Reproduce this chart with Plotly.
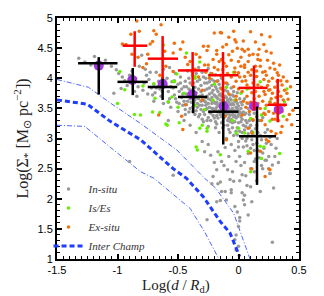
import plotly.graph_objects as go

# ---------------- data ----------------
# In-situ clumps (grey points): (log d/Rd, log Sigma*)
insitu_pts = [
    (-1.32,4.33),(-1.19,4.36),(-1.27,4.27),(-1.22,4.22),(-1.10,4.30),(-1.05,4.20),(-1.01,4.14),(-0.99,4.08),
    (-1.03,3.75),(-0.96,4.02),(-0.94,3.96),(-0.92,3.88),(-0.97,3.83),(-0.90,4.05),(-0.88,4.12),(-0.80,4.38),
    (-0.86,3.78),(-0.84,3.70),(-0.83,3.86),(-0.78,3.92),(-0.76,4.05),(-0.74,3.98),(-0.72,3.84),(-0.70,3.90),
    (-0.69,3.76),(-0.68,4.10),(-0.66,3.95),(-0.65,3.82),(-0.64,3.70),(-0.62,3.58),(-0.60,3.88),(-0.59,4.00),
    (-0.58,3.78),(-0.57,3.66),(-0.56,3.52),(-0.55,3.94),(-0.54,3.84),(-0.53,3.72),(-0.52,4.08),(-0.51,3.60),
    (-0.50,3.45),(-0.50,3.90),(-0.49,3.78),(-0.48,4.02),(-0.47,3.68),(-0.46,3.55),(-0.45,3.86),(-0.44,3.95),
    (-0.43,3.74),(-0.42,3.62),(-0.42,4.12),(-0.41,3.82),(-0.40,3.50),(-0.40,3.92),(-0.39,3.70),(-0.38,4.05),
    (-0.37,3.60),(-0.36,3.85),(-0.36,3.40),(-0.35,3.76),(-0.34,3.95),(-0.33,3.66),(-0.33,4.18),(-0.32,3.55),
    (-0.31,3.88),(-0.30,3.72),(-0.30,3.32),(-0.29,4.02),(-0.28,3.62),(-0.28,3.80),(-0.27,3.48),(-0.26,3.92),
    (-0.26,3.70),(-0.25,3.58),(-0.25,3.20),(-0.24,3.84),(-0.23,3.64),(-0.23,4.08),(-0.22,3.50),(-0.22,3.76),
    (-0.21,3.38),(-0.20,3.95),(-0.20,3.60),(-0.19,3.70),(-0.19,3.28),(-0.18,3.82),(-0.18,3.52),(-0.17,3.44),
    (-0.17,3.66),(-0.16,3.90),(-0.16,3.10),(-0.15,3.58),(-0.15,3.74),(-0.14,3.36),(-0.14,3.48),(-0.13,3.62),
    (-0.13,3.84),(-0.12,3.22),(-0.12,3.54),(-0.11,3.70),(-0.11,3.42),(-0.10,3.00),(-0.10,3.60),(-0.09,3.30),
    (-0.09,3.78),(-0.08,3.50),(-0.08,3.15),(-0.07,3.66),(-0.07,3.38),(-0.06,2.90),(-0.06,3.56),(-0.05,3.26),
    (-0.05,3.72),(-0.04,3.44),(-0.04,3.05),(-0.03,3.62),(-0.03,2.80),(-0.02,3.34),(-0.02,3.52),(-0.01,3.18),
    (0.00,2.95),(0.00,3.46),(0.01,3.66),(0.01,2.70),(0.02,3.28),(0.03,3.10),(0.03,3.56),(0.04,2.86),
    (0.05,3.40),(0.05,2.60),(0.06,3.20),(0.07,3.00),(0.08,3.50),(0.08,2.75),(0.09,3.30),(0.10,2.50),
    (0.11,3.12),(0.12,2.90),(0.13,3.42),(0.14,2.66),(0.15,3.22),(0.16,2.80),(0.18,3.05),(0.19,2.55),
    (0.20,3.35),(0.21,2.84),(0.22,2.64),(0.24,3.15),(0.26,2.42),(0.27,2.90),(0.29,2.18),(0.30,2.70),
    (0.32,3.00),(0.28,1.28),(-0.22,2.25),(-0.17,2.25),(-0.15,2.28),(-0.14,2.12),(-0.11,2.12),(-0.06,2.10),
    (-0.04,2.29),(0.01,2.30),(0.03,2.10),(0.05,2.06),(0.05,1.90),(-0.03,1.87),(-0.18,1.95),(0.01,1.69),
    (0.01,1.63),(0.00,1.54),(-0.02,1.40),(-0.03,1.32),(0.00,1.21),(-0.02,1.15),(-0.26,1.65),(-0.15,1.97),
    (0.00,2.86),(-0.21,2.37),(-0.06,2.15),(0.08,1.73),(0.23,2.64),(0.26,2.42),(-0.12,2.55),(-0.08,2.70),
    (-0.05,2.45),(0.02,2.55),(0.06,2.38),(0.10,2.20),(0.13,2.45),(-0.20,2.60),(-0.17,2.78),(-0.25,2.90),
    (-0.30,2.95),(-0.35,3.10),(-0.40,3.22),(-0.45,3.30),(-0.58,3.30),(-0.90,2.62),(-0.54,2.39),
    (-0.27,3.55),(-0.24,3.44),(-0.21,3.62),(-0.19,3.48),(-0.16,3.55),(-0.14,3.70),(-0.12,3.40),(-0.10,3.52),
    (-0.09,3.64),(-0.07,3.46),(-0.05,3.58),(-0.04,3.36),(-0.02,3.62),(0.00,3.40),(-0.29,3.45),(-0.31,3.62),
    (-0.34,3.52),(-0.38,3.45),(-0.27,3.68),(-0.23,3.30),(-0.18,3.38),(-0.13,3.28),(-0.08,3.42),(-0.06,3.32),
    (-0.01,3.50),(0.02,3.42),(0.04,3.22),(-0.33,3.82),(-0.28,3.92),(-0.22,3.88),(-0.17,3.78),(-0.39,3.60),
    (-0.44,3.48),(-0.47,3.82),(-0.41,3.72),(-0.35,3.68),(-0.31,3.78),(-0.24,3.74),(-0.20,3.72),(-0.15,3.64),
    (-0.11,3.58),(-0.07,3.56),(-0.03,3.46),(0.02,3.36),(0.06,3.30),(0.09,3.18),(0.12,3.30),(0.16,3.10),
    (0.07,2.88),(0.11,2.98),(-0.01,3.06),(-0.07,3.10),(-0.13,3.18),(-0.19,3.18),(-0.25,3.35),(-0.32,3.40),
    (-0.30,3.55),(-0.26,3.50),(-0.22,3.58),(-0.18,3.60),(-0.13,3.50),(-0.09,3.46),(-0.05,3.40),
    (-0.44,3.40),(-0.43,3.56),(-0.41,3.44),(-0.40,3.66),(-0.38,3.52),(-0.37,3.78),(-0.36,3.64),(-0.35,3.46),
    (-0.34,3.58),(-0.33,3.36),(-0.32,3.70),(-0.31,3.48),(-0.29,3.64),(-0.29,3.28),(-0.28,3.40),(-0.27,3.60),
    (-0.26,3.30),(-0.26,3.82),(-0.25,3.66),(-0.24,3.52),(-0.24,3.94),(-0.23,3.42),(-0.22,3.68),(-0.21,3.50),
    (-0.21,3.80),(-0.20,3.34),(-0.20,3.46),(-0.19,3.58),(-0.19,3.86),(-0.18,3.68),(-0.18,3.24),(-0.17,3.56),
    (-0.17,3.34),(-0.16,3.46),(-0.16,3.72),(-0.15,3.40),(-0.15,3.84),(-0.14,3.58),(-0.14,3.26),(-0.13,3.44),
    (-0.13,3.70),(-0.12,3.60),(-0.12,3.34),(-0.11,3.50),(-0.11,3.80),(-0.10,3.40),(-0.10,3.68),(-0.09,3.54),
    (-0.09,3.22),(-0.08,3.60),(-0.08,3.34),(-0.07,3.72),(-0.07,3.28),(-0.06,3.46),(-0.06,3.64),(-0.05,3.50),
    (-0.05,3.18),(-0.04,3.56),(-0.04,3.70),(-0.03,3.38),(-0.03,3.28),(-0.02,3.44),(-0.02,3.12),(-0.01,3.58),
    (-0.01,3.36),(0.00,3.54),(0.00,3.26),(0.01,3.44),(0.01,3.12),(0.02,3.50),(0.03,3.32),(0.03,3.00),
    (0.04,3.44),(0.05,3.14),(0.06,3.42),(0.06,2.96),(0.07,3.26),(0.08,3.08),(0.09,3.40),(0.10,2.84),
    (0.10,3.22),(0.12,3.06),(0.13,2.80),(0.14,3.16),(0.15,2.92),(0.17,3.30),(0.17,2.68),(0.19,2.98),
    (0.20,2.76),(0.22,3.10),(0.23,2.92),(0.25,2.70),(0.26,3.02),(0.28,2.56),(0.31,2.84),(0.33,2.60),
    (-0.70,3.62),(-0.67,3.86),(-0.63,3.78),(-0.61,3.96),(-0.58,3.60),(-0.56,3.86),(-0.53,3.96),(-0.52,3.66),
    (-0.49,3.58),(-0.48,3.92),(-0.46,3.74),(-0.45,3.62),(-0.43,3.86),(-0.41,4.00),(-0.39,3.80),(-0.37,3.92),
    (-0.35,4.08),(-0.32,3.98),(-0.30,4.10),(-0.27,4.00),(-0.25,4.16),(-0.22,3.98),(-0.19,4.06),(-0.17,3.96),
    (-0.14,4.00),(-0.12,3.92),(-0.09,3.90),(-0.06,3.84),(-0.04,3.78),(-0.01,3.76),(0.02,3.60),(0.05,3.66),
    (0.08,3.58),(0.11,3.52),(-0.85,4.00),(-0.82,4.20),(-0.79,3.80),(-0.77,4.15),(-0.75,3.74),(-0.73,4.10),
    (-0.71,3.72),(-0.68,3.84),(-0.62,4.15),(-0.57,4.18),
    (-0.11,2.85),(-0.14,2.62),(-0.09,2.48),(-0.07,2.32),(-0.02,2.62),(0.03,2.40),(0.07,2.22),(0.04,1.98),
    (-0.10,1.98),(-0.18,2.48),(-0.23,2.72),(-0.28,2.78),(0.15,2.30),(0.18,2.12),(-0.01,1.78),(0.11,1.95),
    (0.20,2.50),(0.13,2.62),
]

# Is/Es clumps (green points)
ises_pts = [
    (-0.98,4.11),(-0.70,3.91),(-0.54,3.95),(-0.94,3.81),(-0.79,3.87),(-0.62,4.55),(-0.43,4.42),(-0.36,4.00),
    (-1.00,3.58),(-0.81,3.39),(-0.59,3.22),(-0.51,4.07),(-0.69,3.67),(-0.65,3.43),(-0.50,3.52),(-0.86,3.40),
    (-0.71,3.44),(-0.60,3.24),(-0.49,3.26),(-0.32,3.17),(-0.34,2.81),(-0.58,3.61),(-0.26,3.12),(-0.15,2.73),
    (-0.02,3.09),(0.08,2.79),(0.18,2.87),(0.26,3.29),(0.37,3.37),(0.10,2.45),(0.19,2.67),(0.34,2.75),
    (-0.35,2.86),(-0.32,4.27),(-0.36,4.03),(-0.53,3.94),(-0.24,4.05),(-0.04,4.10),(0.07,3.82),(0.18,3.94),
    (0.40,3.82),(0.26,3.61),(0.38,3.61),(-0.55,3.69),(-0.33,3.69),(-0.21,3.64),(-0.03,3.64),(-0.30,3.22),
    (-0.26,3.17),(0.00,3.17),(0.05,3.09),(0.21,2.86),(0.10,3.33),(0.19,3.39),(0.22,3.50),(-0.45,3.75),
    (-0.28,3.48),(-0.15,3.45),(-0.10,3.85),(-0.20,3.90),(0.02,3.75),(-0.36,3.55),(0.12,3.10),(-0.05,3.30),
]

# Ex-situ clumps (orange points)
exsitu_pts = [
    (-0.84,4.95),(-0.64,4.89),(-0.70,4.79),(-0.82,4.78),(-0.68,4.73),(-0.71,4.61),(-0.73,4.57),(-0.89,4.73),
    (-0.96,4.57),(-0.93,4.56),(-0.53,4.58),(-0.46,4.60),(-0.48,4.48),(-0.61,4.45),(-0.54,4.42),(-0.32,4.35),
    (-0.29,4.53),(-0.44,4.35),(-0.79,4.18),(-0.76,4.24),(-0.42,4.23),(-0.54,4.11),(-0.83,4.35),
    (-0.20,4.75),(-0.14,4.75),(-0.04,4.78),(0.10,4.77),(-0.03,4.64),(-0.02,4.60),(0.21,4.56),(-0.10,4.56),
    (-0.25,4.53),(-0.26,4.46),(-0.18,4.46),(0.03,4.48),(0.05,4.45),(0.08,4.48),(0.16,4.39),(0.23,4.45),
    (-0.08,4.39),(-0.14,4.31),(-0.21,4.31),(0.00,4.28),(0.08,4.28),(0.16,4.31),(0.29,4.25),(0.34,4.22),
    (-0.10,4.20),(-0.03,4.17),(0.05,4.22),(0.11,4.14),(0.18,4.20),(0.22,4.11),(0.26,4.17),(0.32,4.09),
    (0.00,4.09),(0.05,4.03),(0.15,4.03),(0.21,3.98),(0.25,3.95),(0.32,3.95),(0.36,3.89),(-0.25,4.22),
    (-0.17,4.14),(-0.02,3.95),(0.07,3.89),(0.16,3.89),(0.26,3.81),(0.33,3.78),(0.03,3.78),(0.11,3.76),
    (0.22,3.73),(0.43,3.86),(0.45,3.47),(0.40,3.31),(0.37,3.64),(0.29,3.42),(0.26,4.69),(-0.15,4.76),
    (0.11,3.09),(0.18,2.79),(0.27,3.12),(0.25,2.95),(0.22,3.23),(0.12,3.31),(0.08,3.17),(0.21,3.42),
    (0.32,3.50),(0.44,3.23),(0.03,3.39),(0.07,3.59),(-0.02,3.64),(-0.11,3.37),(0.11,2.50),(0.26,2.48),
    (0.10,2.76),(0.23,2.98),(-0.10,2.98),(0.25,2.50),(0.22,2.37),(-0.66,3.39),(-0.47,3.37),(-0.46,3.15),
    (-0.44,3.56),(-0.30,3.64),(-0.40,4.28),(-0.36,4.15),(-0.33,4.02),(-0.27,4.10),(-0.24,4.00),(-0.20,4.18),
    (-0.18,3.95),(-0.15,4.05),(-0.12,4.25),(-0.10,3.92),(-0.06,4.02),(-0.04,3.86),(-0.38,3.88),(-0.30,3.80),
    (-0.14,3.82),(-0.08,3.74),(-0.02,3.70),(0.00,3.82),(0.03,3.95),(0.04,3.62),(0.07,3.70),(0.10,3.60),
    (0.13,3.66),(0.16,3.58),(0.18,3.50),(0.20,3.62),(0.23,3.55),(0.25,3.45),(0.27,3.66),(0.30,3.58),
    (0.33,3.42),(0.35,3.70),(0.38,3.55),(0.40,3.75),(0.33,3.30),(0.36,3.20),(0.31,3.08),(0.28,3.32),
    (0.22,3.40),(0.15,3.36),(0.12,3.48),(0.06,3.52),(0.30,3.85),(0.25,3.80),(0.19,3.85),(0.12,3.92),
    (0.08,4.10),(0.05,4.18),(0.02,4.35),(-0.05,4.45),(0.12,4.40),(0.18,4.30),(0.23,4.05),(0.28,4.00),
    (0.37,4.02),(0.40,3.95),(0.14,4.60),(-0.08,4.68),(0.19,4.72),
    (-0.18,4.40),(-0.13,4.52),(-0.06,4.30),(-0.01,4.50),(0.04,4.62),(0.09,4.38),(0.14,4.20),(0.17,4.48),
    (0.20,4.10),(0.24,4.30),(0.27,4.42),(0.30,4.15),(0.33,4.05),(0.35,3.96),(0.38,3.80),(0.41,3.65),
    (0.36,3.45),(0.31,3.68),(0.28,3.75),(0.24,3.88),(0.21,3.78),(0.17,3.70),(0.14,3.78),(0.09,3.84),
    (0.06,3.96),(0.01,4.02),(-0.03,4.10),(-0.09,4.08),(-0.13,4.14),(-0.16,4.28),(-0.22,4.08),(-0.28,4.22),
    (-0.35,4.40),(-0.38,4.10),(0.02,4.20),(0.10,4.05),(0.15,4.12),(0.26,3.60),(0.30,3.32),(0.19,3.30),
    (0.14,3.55),(0.09,3.45),(0.35,3.10),(0.42,3.40),(-0.60,4.20),(-0.65,4.05),(-0.88,4.40),(-0.75,4.40),
]

# Binned medians of all clumps (purple)
all_x = [-1.155, -0.878, -0.627, -0.382, -0.122, 0.128, 0.332]
all_y = [4.21, 3.97, 3.905, 3.73, 3.53, 3.54, 3.48]

# In-situ binned statistics (black crosses)
ins_x   = [-1.155, -0.874, -0.627, -0.374, -0.126, 0.153]
ins_xlo = [-1.326, -1.000, -0.750, -0.500, -0.250, 0.004]
ins_xhi = [-1.000, -0.750, -0.506, -0.258, 0.000, 0.310]
ins_y   = [4.25, 3.94, 3.855, 3.69, 3.445, 3.037]
ins_ylo = [3.73, 3.72, 3.64, 3.42, 2.90, 2.23]
ins_yhi = [4.35, 4.17, 4.02, 3.87, 3.69, 3.53]

# Ex-situ binned statistics (red crosses)
ex_x   = [-0.858, -0.627, -0.379, -0.128, 0.128, 0.324]
ex_xlo = [-0.957, -0.750, -0.500, -0.250, 0.000, 0.240]
ex_xhi = [-0.754, -0.500, -0.250, 0.000, 0.240, 0.400]
ex_y   = [4.54, 4.325, 4.13, 4.05, 3.84, 3.56]
ex_ylo = [4.19, 3.99, 3.87, 3.61, 3.47, 3.27]
ex_yhi = [4.78, 4.70, 4.435, 4.435, 4.21, 3.99]

# Inter-clump profile (median and spread)
ic_x   = [-1.5, -1.25, -1.06, -0.81, -0.54, -0.43, -0.29, -0.15, -0.07, 0.01]
ic_y   = [3.64, 3.57, 3.285, 2.98, 2.50, 2.34, 2.03, 1.62, 1.43, 1.04]
ic_up_x = [-1.5, -1.24, -1.06, -0.81, -0.51, -0.28, -0.19, -0.04, 0.095]
ic_up_y = [3.98, 3.85, 3.59, 3.25, 2.81, 2.34, 2.18, 1.76, 1.00]
ic_lo_x = [-1.5, -1.27, -1.06, -0.81, -0.70, -0.57, -0.40, -0.28, -0.167]
ic_lo_y = [3.22, 3.20, 2.855, 2.45, 2.34, 2.12, 1.84, 1.45, 1.02]

x_ticks = [-1.5, -1, -0.5, 0, 0.5]
x_labels = ["-1.5", "-1", "-0.5", "0", "0.5"]
y_ticks = [1, 1.5, 2, 2.5, 3, 3.5, 4, 4.5, 5]

# ---------------- figure ----------------
def split(pts):
    return [p[0] for p in pts], [p[1] for p in pts]

fig = go.Figure()

blue = "#1f3dff"
fig.add_trace(go.Scatter(x=ic_up_x, y=ic_up_y, mode="lines", showlegend=False,
                         line=dict(color="#4a66ff", width=1, dash="5px,2px,1px,2px")))
fig.add_trace(go.Scatter(x=ic_lo_x, y=ic_lo_y, mode="lines", showlegend=False,
                         line=dict(color="#4a66ff", width=1, dash="5px,2px,1px,2px")))

gx, gy = split(insitu_pts)
fig.add_trace(go.Scatter(x=gx, y=gy, mode="markers", name="<i>In-situ</i>",
                         marker=dict(color="#999999", size=3.5)))
ex, ey = split(exsitu_pts)
sx, sy = split(ises_pts)
fig.add_trace(go.Scatter(x=sx, y=sy, mode="markers", name="<i>Is/Es</i>",
                         marker=dict(color="#66ee00", size=3.5)))
fig.add_trace(go.Scatter(x=ex, y=ey, mode="markers", name="<i>Ex-situ</i>",
                         marker=dict(color="#f0700f", size=3.5)))
fig.add_trace(go.Scatter(x=ic_x, y=ic_y, mode="lines", name="<i>Inter Champ</i>",
                         line=dict(color=blue, width=3, dash="5px,3px")))

fig.add_trace(go.Scatter(x=all_x, y=all_y, mode="markers", showlegend=False,
                         marker=dict(color="#a435e6", size=10)))

def cross(xc, xlo, xhi, yc, ylo, yhi, color):
    return go.Scatter(
        x=xc, y=yc, mode="markers", showlegend=False,
        marker=dict(size=1, color="rgba(0,0,0,0)"),
        error_x=dict(type="data", symmetric=False,
                     array=[h - c for h, c in zip(xhi, xc)],
                     arrayminus=[c - l for c, l in zip(xc, xlo)],
                     color=color, thickness=2.5, width=0),
        error_y=dict(type="data", symmetric=False,
                     array=[h - c for h, c in zip(yhi, yc)],
                     arrayminus=[c - l for c, l in zip(yc, ylo)],
                     color=color, thickness=2.5, width=0),
    )

fig.add_trace(cross(ins_x, ins_xlo, ins_xhi, ins_y, ins_ylo, ins_yhi, "#000000"))
fig.add_trace(cross(ex_x, ex_xlo, ex_xhi, ex_y, ex_ylo, ex_yhi, "#ff0000"))

axis_common = dict(
    showline=True, linewidth=2, linecolor="black", mirror="allticks",
    ticks="inside", ticklen=5, tickwidth=1.5, tickcolor="black",
    showgrid=False, zeroline=False,
    tickfont=dict(family="Liberation Sans, Arial, sans-serif", size=11, color="black"),
)

fig.update_layout(
    width=324, height=296,
    margin=dict(l=57, r=25, t=18, b=37),
    paper_bgcolor="white", plot_bgcolor="white",
    xaxis=dict(range=[-1.5, 0.5], tickvals=x_ticks, ticktext=x_labels,
               minor=dict(ticks="inside", dtick=0.05, ticklen=3, tickwidth=1, tickcolor="black"),
               **axis_common),
    yaxis=dict(range=[1, 5], tickvals=y_ticks,
               minor=dict(ticks="inside", dtick=0.1, ticklen=3, tickwidth=1, tickcolor="black"),
               title=dict(text="Log(Σ<sub>*</sub> [M<sub>⊙</sub> pc<sup>−2</sup>])", standoff=5,
                          font=dict(family="Liberation Serif, serif", size=16, color="#222")),
               **axis_common),
    legend=dict(x=-0.035, y=-0.006, xanchor="left", yanchor="bottom",
                bgcolor="rgba(0,0,0,0)", borderwidth=0,
                font=dict(family="Liberation Serif, serif", size=11, color="#333"),
                itemwidth=30, tracegroupgap=0),
    annotations=[dict(text="Log(<i>d</i> / <i>R</i><sub>d</sub>)", xref="paper", yref="paper",
                      x=0.49, y=-0.112, xanchor="center", yanchor="middle", showarrow=False,
                      font=dict(family="Liberation Serif, serif", size=15, color="#222"))],
)

fig.write_html("out.html", config={"displayModeBar": False},
               post_script="document.body.style.margin='0';")
